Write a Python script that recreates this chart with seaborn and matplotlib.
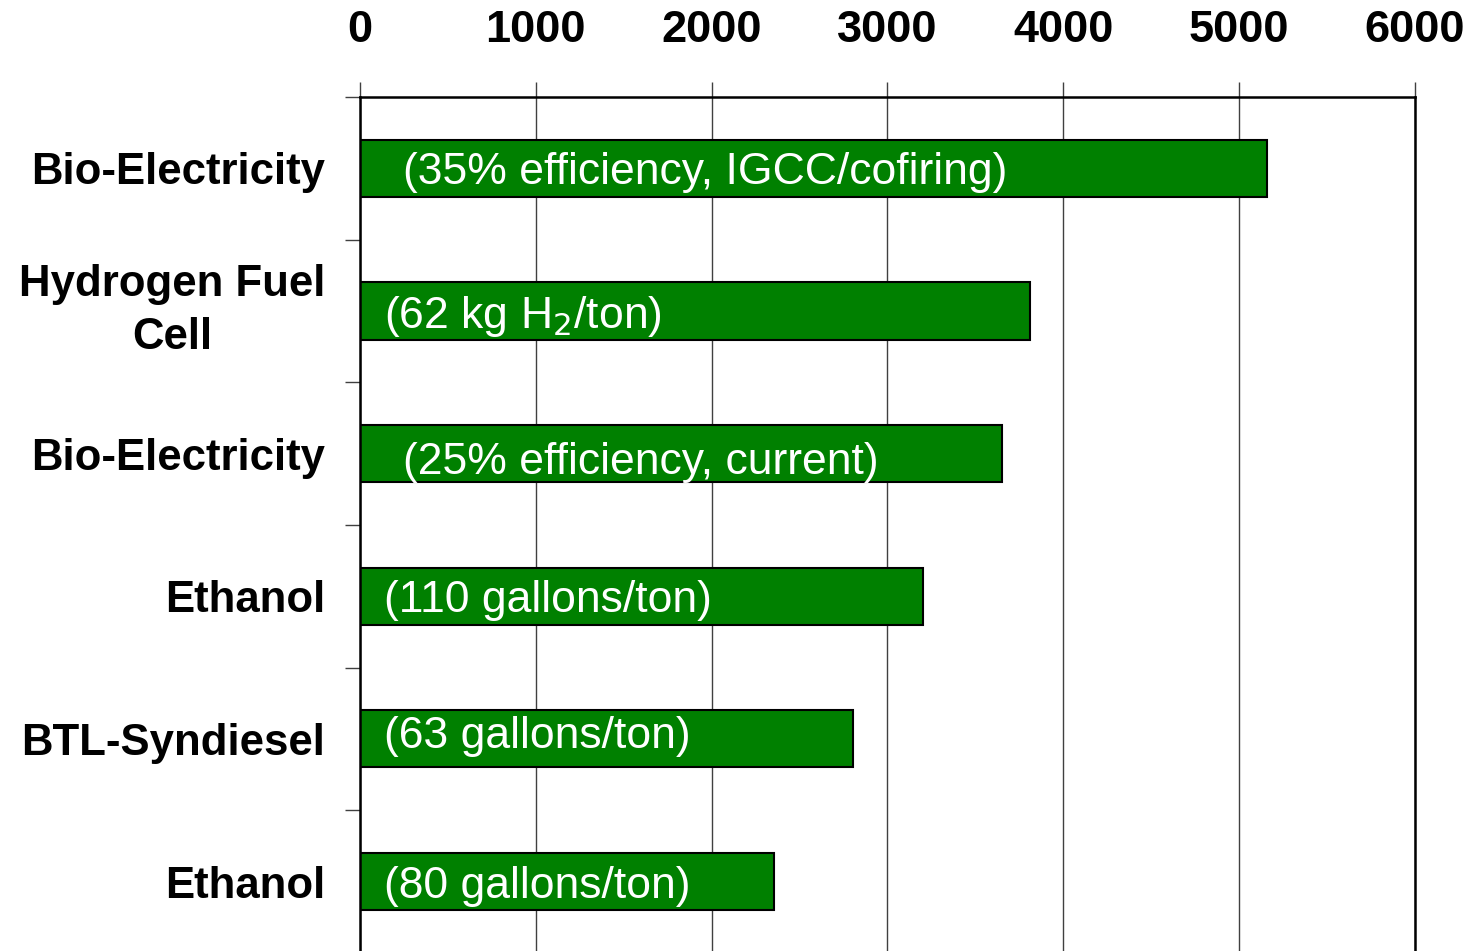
import pandas as pd
import matplotlib.pyplot as plt
import seaborn as sns

# values (units per ton of biomass)
keys = ["bioelec35", "hydrogen", "bioelec25", "ethanol110", "btl", "ethanol80"]
names = ["Bio-Electricity", "Hydrogen Fuel\nCell", "Bio-Electricity",
         "Ethanol", "BTL-Syndiesel", "Ethanol"]
values = [5160, 3810, 3650, 3200, 2805, 2355]
notes = ["(35% efficiency, IGCC/cofiring)", "(62 kg H$_2$/ton)",
         "(25% efficiency, current)", "(110 gallons/ton)",
         "(63 gallons/ton)", "(80 gallons/ton)"]
note_x = [245, 135, 245, 135, 135, 135]
note_dy = [0.0, 0.0, 0.03, 0.0, -0.05, 0.0]
xticks = [0, 1000, 2000, 3000, 4000, 5000, 6000]

df = pd.DataFrame({"key": keys, "value": values})

sns.set_style("white")
plt.rcParams["font.family"] = ["Liberation Sans", "DejaVu Sans"]

fig = plt.figure(figsize=(14.72, 9.51), dpi=100)
ax = fig.add_axes([360 / 1472, -0.002, (1415 - 360) / 1472, 1 - 97 / 951 + 0.002])

sns.barplot(data=df, x="value", y="key", orient="h", color="#008000",
            saturation=1, width=0.4, edgecolor="black", linewidth=1.5, ax=ax)

for i, (v, t) in enumerate(zip(values, notes)):
    ax.text(note_x[i], i + note_dy[i], t, color="white", fontsize=32,
            va="center_baseline", ha="left")

ax.set_xlim(0, 6000)
ax.set_ylim(5.5, -0.5)
ax.set_xlabel("")
ax.set_ylabel("")

ax.xaxis.tick_top()
ax.set_xticks(xticks)
ax.set_xticklabels([str(t) for t in xticks], fontsize=32.5, fontweight="bold",
                   color="black")
ax.tick_params(axis="x", length=11, width=1, color="#404040", pad=22)
ax.grid(axis="x", color="#404040", linewidth=1)
ax.set_axisbelow(True)

# two-line labels drawn separately so they sit centred on the bar
tick_names = [n if "\n" not in n else "" for n in names]
ax.set_yticks(range(len(names)))
ax.set_yticklabels(tick_names, fontsize=31.5, fontweight="bold", color="black")
for i, n in enumerate(names):
    if "\n" in n:
        ax.annotate(n, xy=(0, i), xycoords=("axes fraction", "data"),
                    xytext=(-25, 0), textcoords="offset points",
                    ha="right", va="center", multialignment="center",
                    linespacing=1.4, fontsize=31.5, fontweight="bold",
                    color="black")
ax.set_yticks([i - 0.5 for i in range(len(names) + 1)], minor=True)
ax.tick_params(axis="y", which="major", length=0, pad=25)
ax.tick_params(axis="y", which="minor", left=True, length=11, width=1, color="#404040")

for side in ["top", "left", "right"]:
    ax.spines[side].set_visible(True)
    ax.spines[side].set_color("black")
    ax.spines[side].set_linewidth(1.8)
ax.spines["bottom"].set_visible(False)

fig.savefig("out.png", dpi=100)
